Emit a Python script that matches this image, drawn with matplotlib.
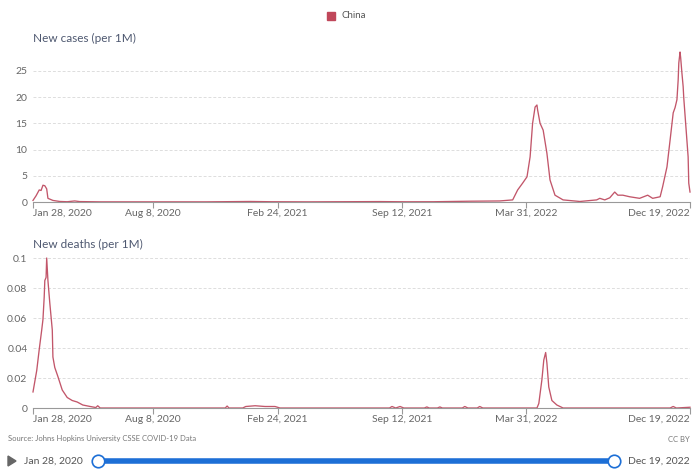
import matplotlib
matplotlib.use("Agg")
import matplotlib.pyplot as plt
import pandas as pd
from matplotlib.patches import Polygon, Rectangle
from matplotlib.lines import Line2D

plt.rcParams["font.family"] = ["Lato", "DejaVu Sans"]

COUNTRY = "China"
SOURCE = "Source: Johns Hopkins University CSSE COVID-19 Data"
START, END = "2020-01-28", "2022-12-19"

TICK_DATES = ["2020-01-28", "2020-08-08", "2021-02-24", "2021-09-12", "2022-03-31", "2022-12-19"]
TICK_LABELS = ["Jan 28, 2020", "Aug 8, 2020", "Feb 24, 2021", "Sep 12, 2021", "Mar 31, 2022", "Dec 19, 2022"]

# new cases per 1M (7-day average)
case_dates = [
    "2020-01-28", "2020-02-02", "2020-02-07", "2020-02-10", "2020-02-13", "2020-02-16",
    "2020-02-19", "2020-02-21", "2020-02-29", "2020-03-11", "2020-03-23", "2020-04-04",
    "2020-04-12", "2020-05-15", "2020-08-01", "2020-11-01", "2021-01-11", "2021-02-15",
    "2021-04-15", "2021-08-08", "2021-09-20", "2021-11-01", "2021-12-30", "2022-02-16",
    "2022-03-09", "2022-03-17", "2022-03-25", "2022-04-01", "2022-04-06", "2022-04-10",
    "2022-04-14", "2022-04-17", "2022-04-18", "2022-04-22", "2022-04-27", "2022-05-03",
    "2022-05-08", "2022-05-16", "2022-05-29", "2022-06-25", "2022-07-22", "2022-07-27",
    "2022-08-04", "2022-08-12", "2022-08-20", "2022-08-25", "2022-09-02", "2022-09-13",
    "2022-09-29", "2022-10-12", "2022-10-20", "2022-11-01", "2022-11-05", "2022-11-12",
    "2022-11-17", "2022-11-22", "2022-11-25", "2022-11-28", "2022-11-30", "2022-12-01",
    "2022-12-03", "2022-12-04", "2022-12-06", "2022-12-08", "2022-12-09", "2022-12-12",
    "2022-12-16", "2022-12-17", "2022-12-19",
]
case_values = [
    0.3, 1.2, 2.3, 2.2, 3.2, 3.1,
    2.5, 0.7, 0.3, 0.1, 0.05, 0.2,
    0.08, 0.03, 0.03, 0.03, 0.1, 0.05,
    0.03, 0.08, 0.04, 0.05, 0.15, 0.2,
    0.4, 2.3, 3.6, 4.8, 8.6, 15.0,
    18.1, 18.5, 17.6, 15.0, 13.7, 9.3,
    4.2, 1.3, 0.4, 0.1, 0.4, 0.7,
    0.4, 0.8, 1.9, 1.3, 1.3, 1.0,
    0.7, 1.3, 0.7, 1.0, 2.9, 6.7,
    11.8, 17.0, 18.0, 19.5, 23.3, 26.5,
    28.6, 27.5, 24.6, 22.0, 19.8, 15.0,
    8.6, 3.6, 1.9,
]

# new deaths per 1M (7-day average)
death_dates = [
    "2020-01-28", "2020-02-03", "2020-02-07", "2020-02-11", "2020-02-13", "2020-02-15",
    "2020-02-16", "2020-02-18", "2020-02-19", "2020-02-21", "2020-02-23", "2020-02-24",
    "2020-02-28", "2020-02-29", "2020-03-03", "2020-03-08", "2020-03-15", "2020-03-23",
    "2020-03-31", "2020-04-08", "2020-04-17", "2020-04-29", "2020-05-08", "2020-05-11",
    "2020-05-15", "2020-12-02", "2020-12-05", "2020-12-08", "2020-12-30", "2021-01-04",
    "2021-01-19", "2021-02-04", "2021-02-20", "2021-02-28", "2021-08-23", "2021-08-27",
    "2021-09-02", "2021-09-09", "2021-09-15", "2021-10-18", "2021-10-22", "2021-10-26",
    "2021-11-08", "2021-11-12", "2021-11-16", "2021-12-18", "2021-12-22", "2021-12-27",
    "2022-01-11", "2022-01-15", "2022-01-20", "2022-04-17", "2022-04-20", "2022-04-25",
    "2022-04-28", "2022-05-01", "2022-05-03", "2022-05-06", "2022-05-11", "2022-05-19",
    "2022-05-29", "2022-11-17", "2022-11-22", "2022-11-27", "2022-12-19",
]
death_values = [
    0.0107, 0.025, 0.039, 0.052, 0.059, 0.074,
    0.085, 0.087, 0.1, 0.085, 0.075, 0.07,
    0.052, 0.034, 0.027, 0.021, 0.012, 0.007,
    0.005, 0.004, 0.002, 0.001, 0.0003, 0.0015,
    0.0, 0.0, 0.0013, 0.0, 0.0, 0.001,
    0.0015, 0.001, 0.001, 0.0, 0.0, 0.001,
    0.0, 0.001, 0.0, 0.0, 0.0007, 0.0,
    0.0, 0.0007, 0.0, 0.0, 0.001, 0.0,
    0.0, 0.001, 0.0, 0.0, 0.003, 0.019,
    0.032, 0.037, 0.030, 0.014, 0.005, 0.002,
    0.0, 0.0, 0.001, 0.0, 0.0005,
]

CASE_TICKS = [0, 5, 10, 15, 20, 25]
DEATH_TICKS = [0, 0.02, 0.04, 0.06, 0.08, 0.1]

LINE_COLOR = "#c2566a"
TITLE_COLOR = "#4e5870"
TICK_COLOR = "#666666"
GRID_COLOR = "#dddddd"
BLUE = "#1d6fd6"

W, H = 700, 474


def fx(px):
    return px / W


def fy(py):
    return 1 - py / H


def style_panel(ax, ticks, ylim, fmt):
    ax.set_xlim(pd.Timestamp(START), pd.Timestamp(END))
    ax.set_ylim(*ylim)
    for side in ["top", "right", "left"]:
        ax.spines[side].set_visible(False)
    ax.spines["bottom"].set_color("#999999")
    ax.spines["bottom"].set_linewidth(0.8)
    ax.set_yticks(ticks)
    ax.set_yticklabels([fmt(t) for t in ticks])
    for t in ticks[1:]:
        ax.axhline(t, color=GRID_COLOR, lw=0.7, ls=(0, (3, 2)), zorder=0)
    ax.tick_params(axis="y", length=0, pad=4, labelsize=7.5, labelcolor=TICK_COLOR)
    ax.set_xticks(pd.to_datetime(TICK_DATES))
    ax.set_xticklabels(TICK_LABELS)
    ax.tick_params(axis="x", length=4, width=0.8, color="#999999", pad=1,
                   labelsize=7.5, labelcolor=TICK_COLOR)
    labels = ax.get_xticklabels()
    labels[0].set_ha("left")
    labels[-1].set_ha("right")


fig = plt.figure(figsize=(W / 100, H / 100), dpi=100)
fig.patch.set_facecolor("white")

ax1 = fig.add_axes([fx(33), fy(202), fx(657), 150 / H])
ax1.plot(pd.to_datetime(case_dates), case_values, color=LINE_COLOR, lw=0.95, clip_on=False)
style_panel(ax1, CASE_TICKS, (0, 28.6), lambda t: f"{t:g}")

ax2 = fig.add_axes([fx(33), fy(408), fx(657), 150 / H])
ax2.plot(pd.to_datetime(death_dates), death_values, color=LINE_COLOR, lw=0.95, clip_on=False)
style_panel(ax2, DEATH_TICKS, (0, 0.1), lambda t: f"{t:g}")

fig.text(fx(33), fy(38), "New cases (per 1M)", fontsize=8.5, color=TITLE_COLOR, va="center")
fig.text(fx(33), fy(244), "New deaths (per 1M)", fontsize=8.5, color=TITLE_COLOR, va="center")

# legend
fig.patches.append(Rectangle((fx(327), fy(20)), fx(8), 8 / H, color="#c0475a",
                             transform=fig.transFigure, figure=fig))
fig.text(fx(341), fy(16), COUNTRY, fontsize=7, color="#555555", va="center")

# footer
fig.text(fx(8), fy(439), SOURCE, fontsize=5.5, color="#777777", va="center")
fig.text(fx(690), fy(439), "CC BY", fontsize=5.5, color="#777777", va="center", ha="right")

# timeline slider
fig.patches.append(Polygon([[fx(8), fy(456)], [fx(8), fy(466)], [fx(16), fy(461)]],
                           closed=True, color="#666666", transform=fig.transFigure, figure=fig))
fig.text(fx(24), fy(461), TICK_LABELS[0], fontsize=7.5, color="#555555", va="center")
fig.text(fx(690), fy(461), TICK_LABELS[-1], fontsize=7.5, color="#555555", va="center", ha="right")
fig.lines.append(Line2D([fx(98), fx(614)], [fy(461), fy(461)], color=BLUE, lw=4,
                        solid_capstyle="butt", transform=fig.transFigure, figure=fig))
for cx in [98, 614]:
    fig.lines.append(Line2D([fx(cx)], [fy(461)], marker="o", markersize=9,
                            markerfacecolor="white", markeredgecolor=BLUE, markeredgewidth=1.2,
                            transform=fig.transFigure, figure=fig))

fig.savefig("out.png", dpi=100, facecolor="white")
